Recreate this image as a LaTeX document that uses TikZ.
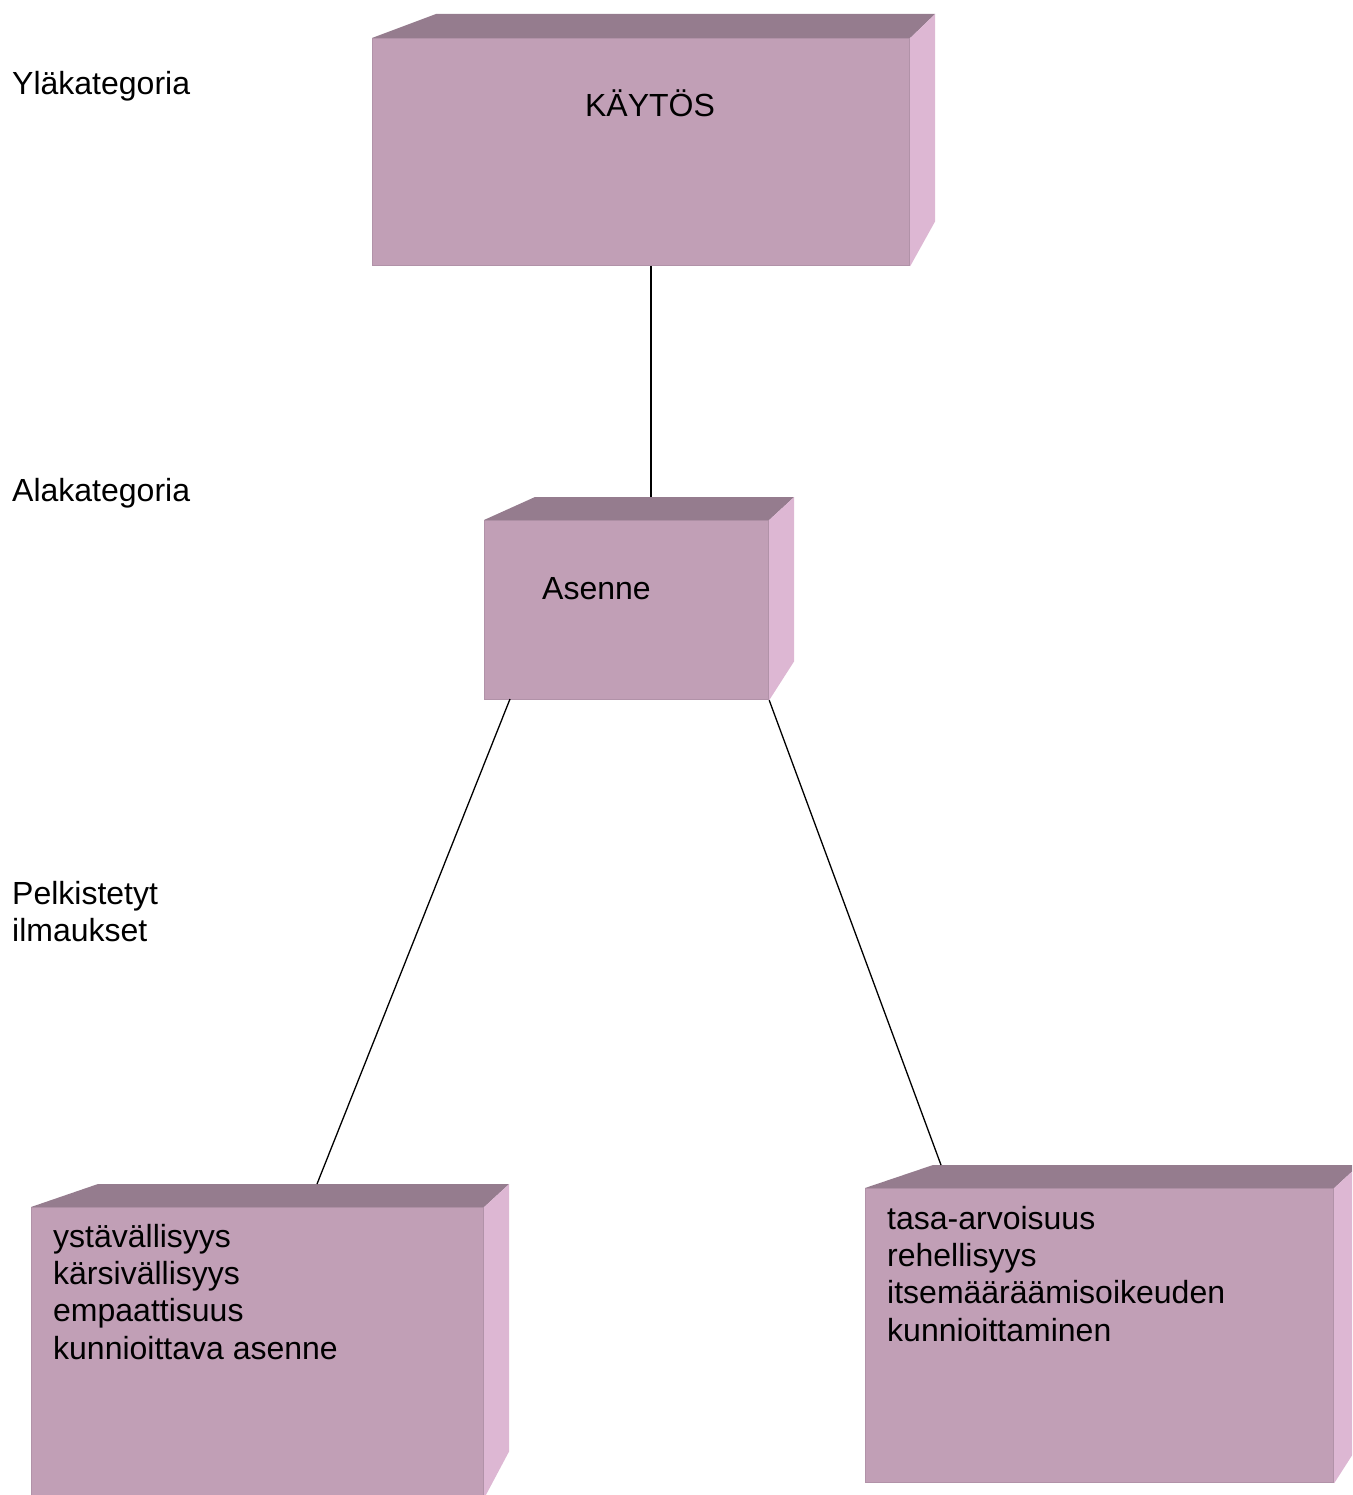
\documentclass[tikz,border=0pt]{standalone}
\usepackage{fontspec}
\setmainfont{Liberation Sans}
\usetikzlibrary{calc}
\definecolor{boxfront}{HTML}{C19FB6}
\definecolor{boxtop}{HTML}{957C8E}
\definecolor{boxside}{HTML}{DDB7D3}
\definecolor{boxedge}{HTML}{B192A8}
% top and right faces of a box: node, left slant, depth, rise of the bottom right corner
\newcommand{\boxfaces}[4]{%
  \fill[top face] (#1.north west) -- ++(#2,-#3) -- ($(#1.north east)+(25,-#3)$) -- (#1.north east) -- cycle;%
  \fill[side face] (#1.north east) -- ++(25,-#3) -- ($(#1.south east)+(25,-#4)$) -- (#1.south east) -- cycle;%
}
\begin{document}
\begin{tikzpicture}[x=1pt, y=-1pt, font=\fontsize{32}{37.2}\selectfont,front face/.style={draw=boxedge, line width=1.2pt, fill=boxfront, anchor=north west, inner sep=0pt},top face/.style={fill=boxtop},side face/.style={fill=boxside},level label/.style={anchor=base west, inner sep=0pt},box text/.style={anchor=north west, align=left, inner sep=0pt},link/.style={draw=black, line width=1.3pt}]%
\path[use as bounding box] (0,0) rectangle (1352,1495);%
\clip (0,0) rectangle (1352,1495);%
  % Levels%
\node[level label] (yla) at (12,95) {Yläkategoria};%
\node[level label] (ala) at (12,501) {Alakategoria};%
\node[box text] (pelk) at (12,881) {Pelkistetyt\\ilmaukset};%
  % Boxes%
\node[front face, minimum width=537pt, minimum height=227pt] (kaytos) at (372,38) {};%
\boxfaces{kaytos}{64}{24}{45}%
\node[front face, minimum width=284pt, minimum height=179pt] (asenne) at (484,520) {};%
\boxfaces{asenne}{51}{23}{39}%
\node[front face, minimum width=452pt, minimum height=290pt] (vasen) at (31,1207) {};%
\boxfaces{vasen}{67}{23}{47}%
\node[front face, minimum width=468pt, minimum height=294pt] (oikea) at (865,1188) {};%
\boxfaces{oikea}{68}{23}{39}%
  % Box texts%
\node[anchor=base, inner sep=0pt] (kaytos-t) at (650,117) {KÄYTÖS};%
\node[anchor=base west, inner sep=0pt] (asenne-t) at (542,599) {Asenne};%
\node[box text] (vasen-t) at (53,1224) {ystävällisyys\\kärsivällisyys\\empaattisuus\\kunnioittava asenne};%
\node[box text] (oikea-t) at (887,1206) {tasa-arvoisuus\\rehellisyys\\itsemääräämisoikeuden\\kunnioittaminen};%
  % Links%
\coordinate (asenne-in) at (651,497);%
\coordinate (asenne-out) at (510,699);%
\coordinate (vasen-in) at (317,1184);%
\coordinate (oikea-in) at (941,1165);%
\path[link] (kaytos.south -| asenne-in) -- (asenne-in);%
\path[link] (asenne-out) -- (vasen-in);%
\path[link] (asenne.south east) -- (oikea-in);%
\end{tikzpicture}
\end{document}
